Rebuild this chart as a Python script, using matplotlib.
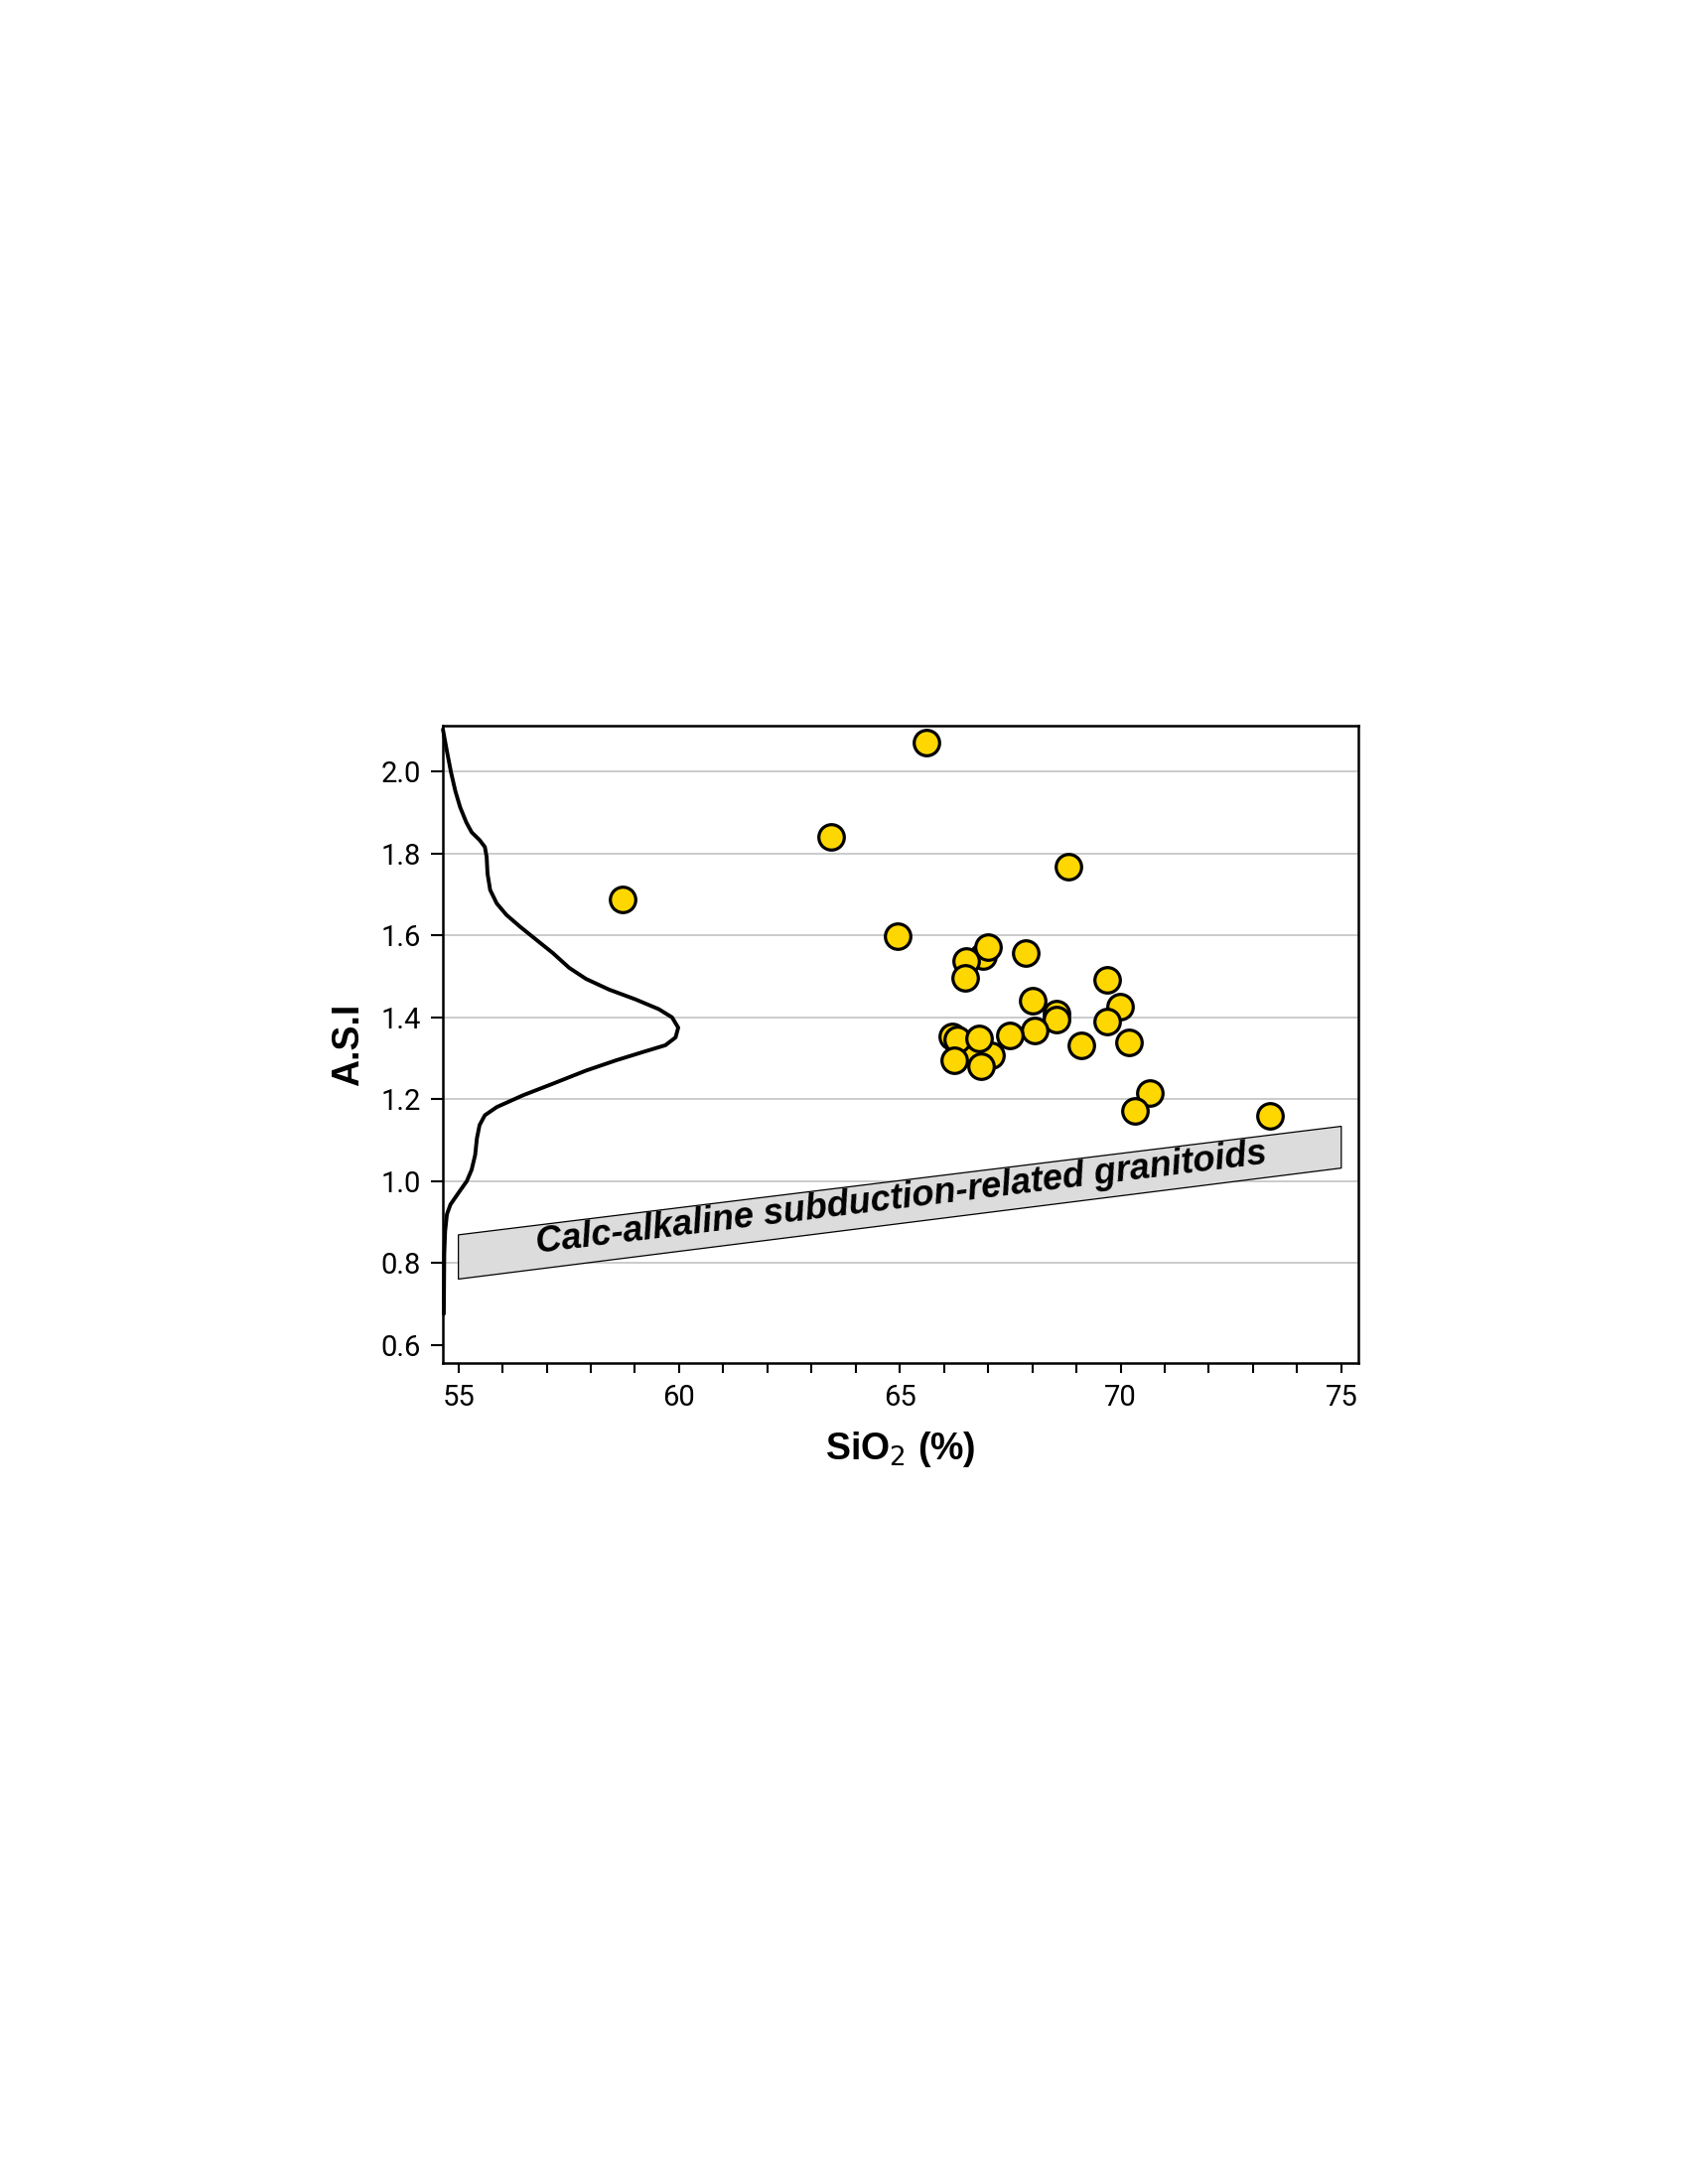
import matplotlib.pyplot as plt
from matplotlib.patches import Polygon

# Samples: SiO2 (%) and A.S.I  (partly hidden ones first so they sit behind)
sio2 = [66.19, 67.07, 66.55, 66.89, 68.54,
        58.73, 63.45, 65.60, 64.94, 68.82,
        66.51, 66.47, 67.00, 67.85, 69.70,
        68.01, 68.54, 68.05, 67.49, 69.98, 69.70, 70.19, 69.11,
        66.29, 66.80, 66.24, 66.84,
        70.67, 70.32, 73.39]
asi = [1.353, 1.307, 1.320, 1.549, 1.410,
       1.688, 1.840, 2.072, 1.599, 1.769,
       1.537, 1.496, 1.571, 1.557, 1.492,
       1.441, 1.395, 1.369, 1.355, 1.426, 1.389, 1.339, 1.331,
       1.347, 1.349, 1.295, 1.281,
       1.215, 1.172, 1.160]

# density curve along the y axis (in SiO2 units)
curve_asi = [2.103, 2.050, 2.000, 1.953, 1.913, 1.876, 1.852, 1.833, 1.816,
             1.792, 1.751, 1.711, 1.678, 1.650, 1.622, 1.589, 1.557, 1.521,
             1.494, 1.468, 1.444, 1.420, 1.400, 1.375, 1.351, 1.332, 1.315,
             1.295, 1.270, 1.238, 1.210, 1.181, 1.161, 1.137, 1.105, 1.064,
             1.028, 1.000, 0.971, 0.943, 0.919, 0.878, 0.822, 0.676]
curve_x = [54.65, 54.74, 54.83, 54.93, 55.04, 55.18, 55.30, 55.48, 55.60,
           55.64, 55.66, 55.72, 55.87, 56.09, 56.39, 56.77, 57.14, 57.51,
           57.89, 58.41, 59.01, 59.54, 59.84, 59.98, 59.92, 59.69, 59.17,
           58.57, 57.89, 57.14, 56.47, 55.87, 55.60, 55.48, 55.42, 55.38,
           55.30, 55.19, 55.00, 54.82, 54.74, 54.70, 54.68, 54.67]

# calc-alkaline field band (corners)
band_x = [55, 75, 75, 55]
band_y = [0.761, 1.032, 1.134, 0.869]
band_label = 'Calc-alkaline subduction-related granitoids'

xticks = [55, 60, 65, 70, 75]
yticks = [0.6, 0.8, 1.0, 1.2, 1.4, 1.6, 1.8, 2.0]

tick_font = ['Roboto', 'Liberation Sans', 'DejaVu Sans']
label_font = ['Liberation Sans', 'DejaVu Sans']

fig = plt.figure(figsize=(17, 22), dpi=100)
ax = fig.add_axes([0.2624, 0.3759, 0.5424, 0.2918])

ax.set_xlim(54.65, 75.39)
ax.set_ylim(0.556, 2.112)

# horizontal grid
ax.set_yticks(yticks)
ax.yaxis.grid(True, color='#bdbdbd', linewidth=1.1)
ax.set_axisbelow(True)
ax.yaxis.get_gridlines()[0].set_visible(False)

# field band + label
band = Polygon(list(zip(band_x, band_y)), closed=True, facecolor='#dcdcdc',
               edgecolor='black', linewidth=0.9, zorder=2)
ax.add_patch(band)
ax.text(65.03, 0.958, band_label, rotation=7.0, rotation_mode='anchor',
        ha='center', va='center', fontsize=26, style='italic', weight='bold',
        family=label_font, zorder=3)

# density curve
ax.plot(curve_x, curve_asi, color='black', linewidth=2.8, zorder=3,
        solid_joinstyle='round', solid_capstyle='round', clip_on=False)

# samples
ax.scatter(sio2, asi, s=340, color='#ffd700', edgecolor='black',
           linewidth=2.3, zorder=4)

ax.set_xticks(xticks)
ax.set_xticks(range(55, 76), minor=True)
ax.set_yticklabels([f'{v:.1f}' for v in yticks])
ax.tick_params(axis='x', which='both', direction='out', length=7, width=1.5,
               pad=8, labelsize=21, labelcolor='black')
ax.tick_params(axis='y', direction='out', length=9, width=1.5, pad=7,
               labelsize=21, labelcolor='black')
for lab in ax.get_xticklabels() + ax.get_yticklabels():
    lab.set_family(tick_font)

for sp in ax.spines.values():
    sp.set_linewidth(1.8)

ax.set_xlabel('SiO$_2$ (%)', fontsize=27, weight='bold', family=label_font)
ax.xaxis.set_label_coords(0.5, -0.104)
ax.set_ylabel('A.S.I', fontsize=27, weight='bold', family=label_font)
ax.yaxis.set_label_coords(-0.084, 0.5)

fig.savefig('out.png', dpi=100)
